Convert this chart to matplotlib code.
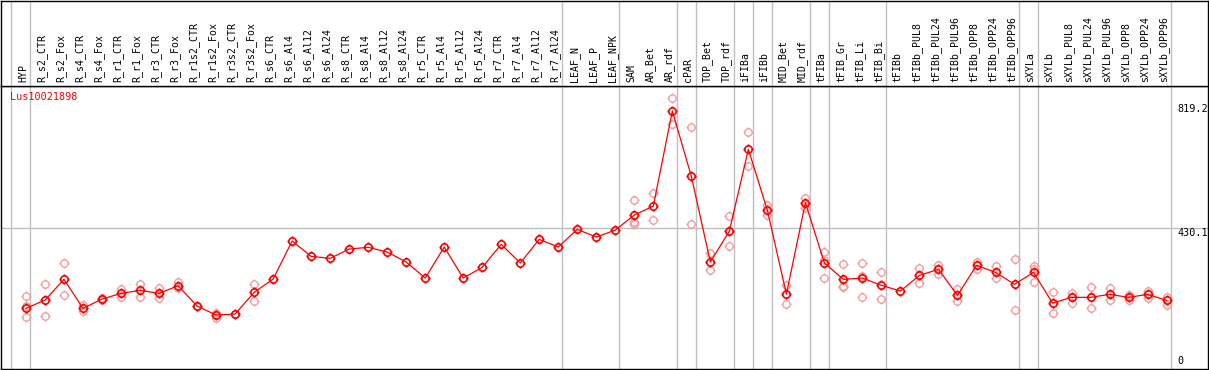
import numpy as np
import matplotlib
matplotlib.use("Agg")
from matplotlib import pyplot as plt
from matplotlib.path import Path
from matplotlib.transforms import blended_transform_factory

gene = "Lus10021898"

samples = ["HYP", "R_s2_CTR", "R_s2_Fox", "R_s4_CTR", "R_s4_Fox", "R_r1_CTR", "R_r1_Fox",
           "R_r3_CTR", "R_r3_Fox", "R_r1s2_CTR", "R_r1s2_Fox", "R_r3s2_CTR", "R_r3s2_Fox",
           "R_s6_CTR", "R_s6_Al4", "R_s6_Al12", "R_s6_Al24", "R_s8_CTR", "R_s8_Al4",
           "R_s8_Al12", "R_s8_Al24", "R_r5_CTR", "R_r5_Al4", "R_r5_Al12", "R_r5_Al24",
           "R_r7_CTR", "R_r7_Al4", "R_r7_Al12", "R_r7_Al24", "LEAF_N", "LEAF_P", "LEAF_NPK",
           "SAM", "AR_Bet", "AR_rdf", "cPAR", "TOP_Bet", "TOP_rdf", "iFIBa", "iFIBb",
           "MID_Bet", "MID_rdf", "tFIBa", "tFIB_Gr", "tFIB_Li", "tFIB_Bi", "tFIBb",
           "tFIBb_PUL8", "tFIBb_PUL24", "tFIBb_PUL96", "tFIBb_OPP8", "tFIBb_OPP24",
           "tFIBb_OPP96", "sXYLa", "sXYLb", "sXYLb_PUL8", "sXYLb_PUL24", "sXYLb_PUL96",
           "sXYLb_OPP8", "sXYLb_OPP24", "sXYLb_OPP96"]

means = [179.7, 205.6, 270.4, 179.7, 208.8, 226.6, 236.0, 226.6, 250.4, 186.9,
         158.7, 161.8, 229.7, 271.4, 390.3, 342.4, 336.2, 365.3, 370.6, 355.9,
         324.6, 274.5, 371.5, 274.5, 308.0, 380.0, 321.4, 395.6, 371.5, 426.9,
         402.8, 424.7, 471.7, 499.8, 797.2, 592.8, 324.6, 421.6, 677.3, 486.4,
         224.4, 510.2, 321.4, 270.4, 274.5, 251.6, 233.8, 282.9, 301.7, 220.3,
         314.2, 292.3, 254.8, 292.3, 196.2, 214.1, 214.1, 223.5, 214.1, 223.5,
         204.7]

replicates = [[218.2, 186.9, 153.4], [254.8, 155.6], [320.5, 220.3], [190.0, 171.2],
              [211.9, 205.6], [241.0, 214.1], [254.8, 216.0], [243.2, 211.0],
              [262.9, 242.3], [186.9], [164.0, 148.4], [161.8], [254.8, 203.4],
              [], [], [], [], [], [], [], [], [], [], [], [], [], [], [], [], [], [], [],
              [518.6, 450.7, 443.5], [539.6, 455.1], [837.9, 756.5], [747.1, 443.5],
              [351.8, 298.6], [468.5, 374.6], [730.5, 624.1], [503.9, 472.6],
              [252.6, 193.1], [524.9, 492.6], [354.9, 330.8, 274.5],
              [318.3, 249.5, 245.4], [321.4, 281.7, 214.1], [293.3, 208.8], [],
              [304.9, 258.8], [315.2, 287.0], [240.1, 203.4], [325.5, 301.7],
              [311.1, 274.5], [333.0, 173.4], [311.1, 303.6, 261.0], [229.7, 164.0],
              [228.5, 197.2], [246.3, 180.6], [243.2, 206.6], [221.3, 205.6],
              [234.7, 212.8], [216.0, 190.0]]

# sample index after which a group separator is drawn
group_ends = [-1, 0, 28, 31, 34, 35, 37, 38, 39, 41, 42, 45, 52, 53, 60]
y_labels = [0, 430.1, 819.2]

W, H = 1209, 370
fig = plt.figure(figsize=(W / 100, H / 100), dpi=100)
grey = "#c0c0c0"

# circle with four small ticks, like the original symbol
r = 0.72
circ = Path.circle((0, 0), r)
ticks = Path([(0, r), (0, 1), (0, -r), (0, -1), (r, 0), (1, 0), (-r, 0), (-1, 0)],
             [Path.MOVETO, Path.LINETO] * 4)
marker = Path.make_compound_path(circ, ticks)

x = np.arange(len(samples))
xlim = ((1 - 26) / 19.01, (1208 - 26) / 19.01)

ax = fig.add_axes([1 / W, 0.7 / H, 1207 / W, 283.8 / H])
ax.set_xlim(*xlim)
ax.set_ylim(-11, 877)
ax.set_xticks([])
ax.set_yticks([])
for s in ax.spines.values():
    s.set_linewidth(1.0)
    s.set_color("black")

ax.axhline(430.1, color=grey, lw=1.0, zorder=1)
for g in group_ends:
    ax.axvline(g + 0.22, color=grey, lw=1.0, zorder=1)

rx, ry = [], []
for i, reps in enumerate(replicates):
    for v in reps:
        rx.append(i)
        ry.append(v)
ax.plot(rx, ry, linestyle="none", marker=marker, markersize=7.3,
        markerfacecolor="none", markeredgecolor="#f0a0a0", markeredgewidth=1.0, zorder=2)
ax.plot(x, means, color="red", lw=0.9, marker=marker, markersize=7.3,
        markerfacecolor="none", markeredgecolor="red", markeredgewidth=1.2, zorder=3)

tr = blended_transform_factory(ax.transAxes, ax.transData)
for v in y_labels:
    ax.text((1177 - 1) / 1207, v, "%g" % v if v else "0", transform=tr,
            ha="left", va="bottom" if v == 0 else "top",
            fontsize=7.3, family="DejaVu Sans Mono", color="black")

ax.text(9 / 1207, 0.9595, gene, transform=ax.transAxes, ha="left", va="center",
        fontsize=7.3, family="DejaVu Sans Mono", color="red")

top = fig.add_axes([1 / W, (H - 85.5) / H, 1207 / W, 85 / H])
top.set_xlim(*xlim)
top.set_ylim(0, 85)
top.set_xticks([])
top.set_yticks([])
for s in top.spines.values():
    s.set_linewidth(1.0)
    s.set_color("black")
for g in group_ends:
    top.axvline(g + 0.22, color=grey, lw=1.0, zorder=1)
for i, name in enumerate(samples):
    top.text(i - 0.16, 3.5, name, rotation=90, ha="center", va="bottom",
             fontsize=7.1, family="DejaVu Sans Mono", color="black")

fig.savefig("out.png", dpi=100)
